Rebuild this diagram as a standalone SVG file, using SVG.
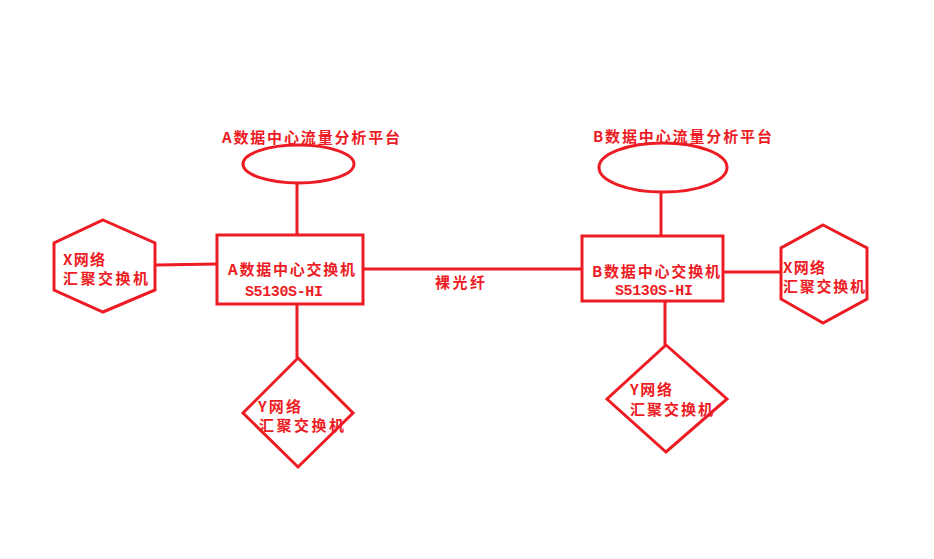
<svg xmlns="http://www.w3.org/2000/svg" width="934" height="559" viewBox="0 0 934 559">
<style>
.s{fill:none;stroke:#ED1C24;stroke-width:3}
.l{stroke:#ED1C24;stroke-width:3;fill:none}
.t{fill:#ED1C24;font-family:"Noto Sans CJK SC","Liberation Sans",sans-serif;font-weight:bold;font-size:15px}
.m{fill:#ED1C24;font-family:"Liberation Mono",monospace;font-weight:bold;font-size:15px}
</style>
<rect width="934" height="559" fill="#fff"/>
<g id="connectors">
<line class="l" x1="297" y1="183" x2="297" y2="235"/>
<line class="l" x1="156" y1="265" x2="217" y2="264"/>
<line class="l" x1="297" y1="304" x2="297" y2="358"/>
<line class="l" x1="364" y1="269" x2="582" y2="269"/>
<line class="l" x1="661" y1="192" x2="661" y2="236"/>
<line class="l" x1="723" y1="272" x2="781" y2="272"/>
<line class="l" x1="665" y1="301" x2="665" y2="345"/>
<text class="t" x="435" y="288" textLength="50" lengthAdjust="spacing">裸光纤</text>
</g>
<g id="platformA">
<ellipse class="s" cx="298.5" cy="164" rx="55.5" ry="19"/>
<text class="t" x="222" y="143" textLength="178" lengthAdjust="spacing">A数据中心流量分析平台</text>
</g>
<g id="switchA">
<rect class="s" x="217" y="235" width="146" height="69"/>
<text class="t" x="228" y="275" textLength="127" lengthAdjust="spacing">A数据中心交换机</text>
<text class="m" x="245" y="296" textLength="78" lengthAdjust="spacing">S5130S-HI</text>
</g>
<g id="xA">
<polygon class="s" points="103,220 155,243 155,290 103,312 54,290 54,243"/>
<text class="t" x="63" y="265" textLength="42" lengthAdjust="spacing">X网络</text>
<text class="t" x="63" y="284" textLength="85" lengthAdjust="spacing">汇聚交换机</text>
</g>
<g id="yA">
<polygon class="s" points="298,358 353,413 298,467 243,413"/>
<text class="t" x="258" y="412" textLength="43" lengthAdjust="spacing">Y网络</text>
<text class="t" x="259" y="431" textLength="85" lengthAdjust="spacing">汇聚交换机</text>
</g>
<g id="platformB">
<ellipse class="s" cx="663" cy="167.5" rx="64" ry="24.5"/>
<text class="t" x="593" y="142" textLength="179" lengthAdjust="spacing">B数据中心流量分析平台</text>
</g>
<g id="switchB">
<rect class="s" x="582" y="236" width="141" height="65"/>
<text class="t" x="592" y="277" textLength="128" lengthAdjust="spacing">B数据中心交换机</text>
<text class="m" x="615" y="295" textLength="78" lengthAdjust="spacing">S5130S-HI</text>
</g>
<g id="xB">
<polygon class="s" points="823,225 867,248 867,299 823,323 781,299 781,248"/>
<text class="t" x="783" y="273" textLength="42" lengthAdjust="spacing">X网络</text>
<text class="t" x="783" y="292" textLength="82" lengthAdjust="spacing">汇聚交换机</text>
</g>
<g id="yB">
<polygon class="s" points="666,345 727,399 666,452 607,399"/>
<text class="t" x="630" y="395" textLength="42" lengthAdjust="spacing">Y网络</text>
<text class="t" x="630" y="415" textLength="83" lengthAdjust="spacing">汇聚交换机</text>
</g>
</svg>
